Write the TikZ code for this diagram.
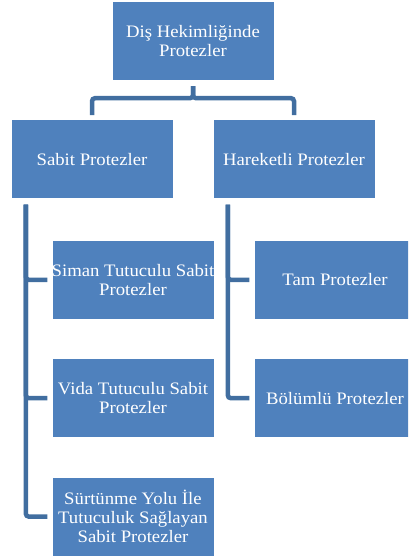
\documentclass[tikz,border=0pt]{standalone}
\usepackage{fontspec}
\setmainfont{Liberation Serif}[FakeStretch=1.07]
\usetikzlibrary{positioning}
\definecolor{kutumavi}{RGB}{79,129,189}
\definecolor{cizgimavi}{RGB}{65,110,160}

\begin{document}
\begin{tikzpicture}[
  x=1pt, y=1pt,
  kutu/.style={
    fill=kutumavi,
    text=white,
    align=center,
    inner xsep=-2pt,
    minimum width=161pt,
    minimum height=78pt,
    font=\fontsize{17.5}{19}\selectfont
  },
  link/.style={
    draw=cizgimavi,
    line width=4.5pt,
    rounded corners=3pt,
    shorten <=6pt,
    shorten >=5pt
  },
  node distance=40pt
]
\clip (0,0) rectangle (408,-559);

% Kök
\node[kutu] (kok) at (193,-41) {Diş Hekimliğinde\\Protezler};

% İkinci düzey
\node[kutu, below=40pt of kok, xshift=-101pt] (sabit) {Sabit Protezler};
\node[kutu, below=40pt of kok, xshift=101pt] (hareketli) {Hareketli Protezler};

% Sabit protezlerin altı
\node[kutu, below=42pt of sabit, xshift=41pt] (siman)
  {Siman Tutuculu Sabit\\Protezler};
\node[kutu, below=of siman] (vida)
  {Vida Tutuculu Sabit\\Protezler};
\node[kutu, below=of vida] (surtunme)
  {Sürtünme Yolu İle\\Tutuculuk Sağlayan\\Sabit Protezler};

% Hareketli protezlerin altı
\node[kutu, below=42pt of hareketli, xshift=41pt] (tam) {Tam Protezler};
\node[kutu, below=of tam] (bolumlu) {Bölümlü Protezler};

% Kökten ikinci düzeye
\draw[link] (kok.south) -- ++(0,-18) -| (sabit.north);
\draw[link] (kok.south) -- ++(0,-18) -| (hareketli.north);

% Sabit kolu
\draw[link] (sabit.south west) ++(14.5,0) |- (siman.west);
\draw[link] (sabit.south west) ++(14.5,0) |- (vida.west);
\draw[link] (sabit.south west) ++(14.5,0) |- (surtunme.west);

% Hareketli kolu
\draw[link] (hareketli.south west) ++(14.5,0) |- (tam.west);
\draw[link] (hareketli.south west) ++(14.5,0) |- (bolumlu.west);

\end{tikzpicture}
\end{document}
